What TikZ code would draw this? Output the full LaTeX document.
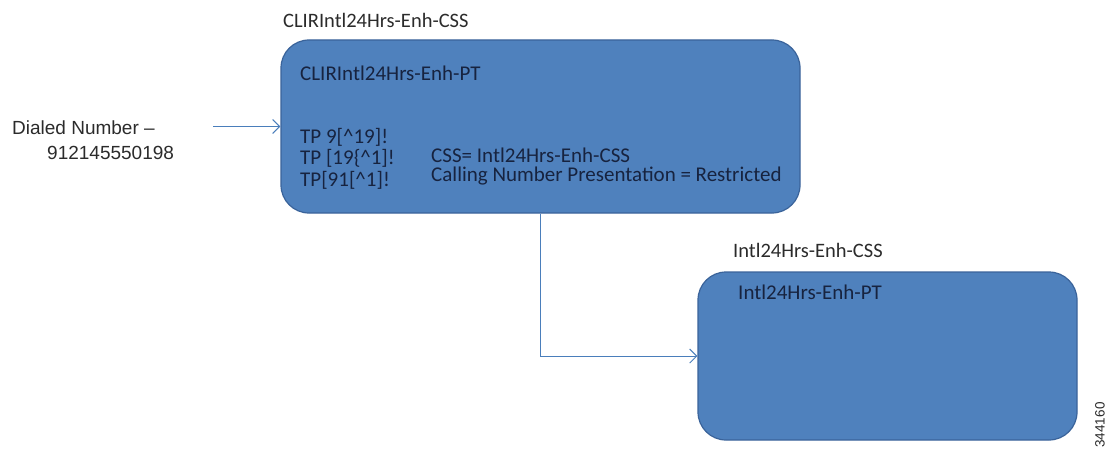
\documentclass[tikz,border=0pt]{standalone}
\usepackage{fontspec}
\setmainfont{Carlito}
\newfontfamily\arialfont{Liberation Sans}
\usetikzlibrary{arrows.meta}
\definecolor{boxfill}{HTML}{4F81BD}
\definecolor{boxedge}{HTML}{3A639A}
\definecolor{linkblue}{HTML}{4A7EBB}
\definecolor{intext}{HTML}{17233F}
\definecolor{outtext}{HTML}{2B2B2B}
\tikzset{
  x=1pt, y=-1pt,
  cssbox/.style={draw=boxedge, line width=1.2pt, fill=boxfill, rounded corners=28pt, inner sep=0pt},
  intxt/.style={anchor=west, inner sep=0pt, text=intext, font=\fontsize{21}{24}\selectfont},
  outtxt/.style={anchor=west, inner sep=0pt, text=outtext, font=\fontsize{20.5}{24}\selectfont},
  arialtxt/.style={anchor=west, inner sep=0pt, text=outtext, font=\arialfont\fontsize{19}{22}\selectfont},
  link/.style={draw=linkblue, line width=1pt, -{Straight Barb[length=7pt,width=14pt,line width=1pt]}}
}
\begin{document}
\begin{tikzpicture}
\useasboundingbox (0,0) rectangle (1107,457);

% calling search spaces
\node[cssbox, minimum width=519pt, minimum height=173pt] (clir) at (540.5,126.5) {};
\node[cssbox, minimum width=379pt, minimum height=168pt] (intl) at (887.5,356) {};

% titles above the boxes
\node[outtxt] (clircss) at (283,20) {CLIRIntl24Hrs-Enh-CSS};
\node[outtxt] (intlcss) at (733,250) {Intl24Hrs-Enh-CSS};

% partition contents
\node[intxt] (clirpt) at (300,73) {CLIRIntl24Hrs-Enh-PT};
\node[intxt] (tp1) at (300,137) {TP 9[\^{}19]!};
\node[intxt] (tp2) at (300,158) {TP [19\{\^{}1]!};
\node[intxt] (tp3) at (300,180) {TP[91[\^{}1]!};
\node[intxt] (css) at (431,155) {CSS= Intl24Hrs-Enh-CSS};
\node[intxt] (cnp) at (431,176) {Calling Number Presentation = Restricted};
\node[intxt] (intlpt) at (738,292) {Intl24Hrs-Enh-PT};

% dialed number
\node[arialtxt] (dialed) at (12,128) {Dialed Number –};
\node[arialtxt] (digits) at (47,153) {912145550198};
\coordinate (start) at (213,126.5);

% figure number
\node[inner sep=0pt, text=outtext, font=\arialfont\fontsize{13.5}{16}\selectfont, rotate=90] (fig) at (1100,425) {344160};

% connectors
\draw[link] (start) -- (clir.west);
\draw[link] (clir.south) |- (intl.west);
\end{tikzpicture}
\end{document}
